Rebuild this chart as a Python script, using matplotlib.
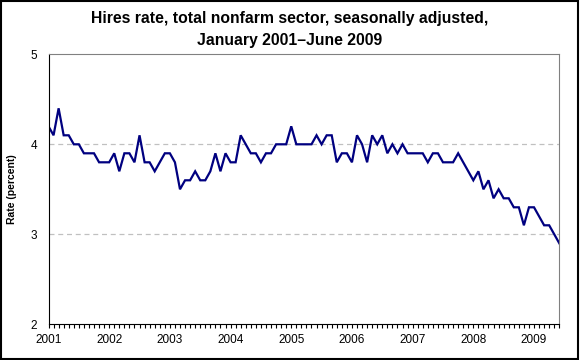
import numpy as np
import matplotlib
matplotlib.use('Agg')
import matplotlib.pyplot as plt
from matplotlib.patches import Rectangle

plt.rcParams['font.family'] = ['Liberation Sans', 'DejaVu Sans']

# tasa mensual, enero 2001 - junio 2009
tasa_2001 = [4.2, 4.1, 4.4, 4.1, 4.1, 4.0, 4.0, 3.9, 3.9, 3.9, 3.8, 3.8]
tasa_2002 = [3.8, 3.9, 3.7, 3.9, 3.9, 3.8, 4.1, 3.8, 3.8, 3.7, 3.8, 3.9]
tasa_2003 = [3.9, 3.8, 3.5, 3.6, 3.6, 3.7, 3.6, 3.6, 3.7, 3.9, 3.7, 3.9]
tasa_2004 = [3.8, 3.8, 4.1, 4.0, 3.9, 3.9, 3.8, 3.9, 3.9, 4.0, 4.0, 4.0]
tasa_2005 = [4.2, 4.0, 4.0, 4.0, 4.0, 4.1, 4.0, 4.1, 4.1, 3.8, 3.9, 3.9]
tasa_2006 = [3.8, 4.1, 4.0, 3.8, 4.1, 4.0, 4.1, 3.9, 4.0, 3.9, 4.0, 3.9]
tasa_2007 = [3.9, 3.9, 3.9, 3.8, 3.9, 3.9, 3.8, 3.8, 3.8, 3.9, 3.8, 3.7]
tasa_2008 = [3.6, 3.7, 3.5, 3.6, 3.4, 3.5, 3.4, 3.4, 3.3, 3.3, 3.1, 3.3]
tasa_2009 = [3.3, 3.2, 3.1, 3.1, 3.0, 2.9]

anios = ['2001', '2002', '2003', '2004', '2005', '2006', '2007', '2008', '2009']

tasa = (tasa_2001 + tasa_2002 + tasa_2003 + tasa_2004 + tasa_2005
        + tasa_2006 + tasa_2007 + tasa_2008 + tasa_2009)
meses = np.arange(len(tasa))

fig = plt.figure(figsize=(5.8, 3.6), dpi=100)
ax = fig.add_axes([48.5/580, 1 - 324.3/360, (559.3 - 48.5)/580, (324.3 - 54.3)/360])

ax.plot(meses, tasa, color='#000080', lw=1.6, solid_joinstyle='miter')

ax.set_xlim(0, len(tasa) - 1)
ax.set_ylim(2, 5)
ax.set_yticks([2, 3, 4, 5])
ax.set_xticks(np.arange(0, len(tasa), 12))
ax.set_xticklabels(anios)
ax.set_xticks(meses, minor=True)
ax.tick_params(axis='x', which='both', direction='out', length=3, width=0.8,
               labelsize=8.5, pad=4)
ax.tick_params(axis='y', length=0, labelsize=8.5, pad=8)

for v in [3, 4]:
    ax.axhline(v, color='#c0c0c0', lw=0.9, ls=(0, (4, 3)), zorder=0)

ax.spines['left'].set_color('black')
ax.spines['bottom'].set_color('black')
ax.spines['top'].set_color('#808080')
ax.spines['right'].set_color('#808080')

ax.set_ylabel('Rate (percent)', fontsize=7.5, fontweight='bold', labelpad=10)

fig.text(0.5, 1 - 18/360, 'Hires rate, total nonfarm sector, seasonally adjusted,',
         ha='center', va='center', fontsize=11.3, fontweight='bold')
fig.text(0.5, 1 - 41/360, 'January 2001\u2013June 2009',
         ha='center', va='center', fontsize=11.3, fontweight='bold')

fig.patches.append(Rectangle((0.002, 0.003), 0.995, 0.994, transform=fig.transFigure,
                             fill=False, edgecolor='black', lw=1.5))

fig.savefig('out.png', dpi=100)
